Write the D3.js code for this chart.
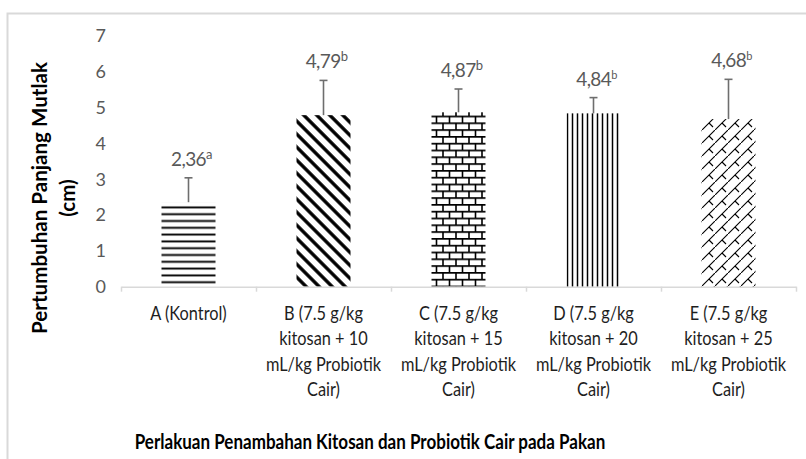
<!DOCTYPE html>
<html lang="id">
<head>
<meta charset="utf-8">
<title>Pertumbuhan Panjang Mutlak</title>
<script src="https://d3js.org/d3.v7.min.js"></script>
<style>
  body { margin: 0; background: #fff; }
  text { font-family: Lato, "Noto Sans", sans-serif; }
</style>
</head>
<body>
<script>
// data
var categories = [
  ["A (Kontrol)"],
  ["B (7.5 g/kg", "kitosan + 10", "mL/kg Probiotik", "Cair)"],
  ["C (7.5 g/kg", "kitosan + 15", "mL/kg Probiotik", "Cair)"],
  ["D (7.5 g/kg", "kitosan + 20", "mL/kg Probiotik", "Cair)"],
  ["E (7.5 g/kg", "kitosan + 25", "mL/kg Probiotik", "Cair)"]
];
var means = [2.36, 4.79, 4.87, 4.84, 4.68];
var errors = [0.68, 0.97, 0.65, 0.44, 1.11];
var letters = ["a", "b", "b", "b", "b"];
var yTicks = [0, 1, 2, 3, 4, 5, 6, 7];
var patterns = ["hlines", "diag", "brick", "vlines", "shingle"];

var w = 806, h = 459;

var svg = d3.select("body").append("svg")
  .attr("width", w)
  .attr("height", h);

// chart border (runs off the picture)
svg.append("rect")
  .attr("x", 7.5).attr("y", 13.5)
  .attr("width", 820).attr("height", 470)
  .attr("fill", "#fff")
  .attr("stroke", "#d9d9d9")
  .attr("stroke-width", 2);

// fill patterns
var defs = svg.append("defs");

var p = defs.append("pattern").attr("id", "hlines")
  .attr("patternUnits", "userSpaceOnUse").attr("width", 8).attr("height", 6.8);
p.append("rect").attr("width", 8).attr("height", 6.8).attr("fill", "#fff");
p.append("line").attr("x1", 0).attr("x2", 8).attr("y1", 3.4).attr("y2", 3.4)
  .attr("stroke", "#000").attr("stroke-width", 1.9);

p = defs.append("pattern").attr("id", "diag")
  .attr("patternUnits", "userSpaceOnUse").attr("width", 9.2).attr("height", 9.2)
  .attr("patternTransform", "rotate(-45)");
p.append("rect").attr("width", 9.2).attr("height", 9.2).attr("fill", "#fff");
p.append("line").attr("x1", 4.6).attr("x2", 4.6).attr("y1", 0).attr("y2", 9.2)
  .attr("stroke", "#000").attr("stroke-width", 3.4);

p = defs.append("pattern").attr("id", "brick")
  .attr("patternUnits", "userSpaceOnUse").attr("width", 13).attr("height", 13.6);
p.append("rect").attr("width", 13).attr("height", 13.6).attr("fill", "#fff");
p.append("path")
  .attr("d", "M0,0.8H13M0,7.6H13M1,0.8V7.6M7.5,7.6V13.6")
  .attr("stroke", "#000").attr("stroke-width", 1.6).attr("fill", "none");

p = defs.append("pattern").attr("id", "vlines")
  .attr("patternUnits", "userSpaceOnUse").attr("width", 5).attr("height", 8);
p.append("rect").attr("width", 5).attr("height", 8).attr("fill", "#fff");
p.append("line").attr("x1", 2.5).attr("x2", 2.5).attr("y1", 0).attr("y2", 8)
  .attr("stroke", "#000").attr("stroke-width", 1.5);

p = defs.append("pattern").attr("id", "shingle")
  .attr("patternUnits", "userSpaceOnUse").attr("width", 13).attr("height", 13);
p.append("rect").attr("width", 13).attr("height", 13).attr("fill", "#fff");
p.append("path")
  .attr("d", "M-1,14L14,-1M7,6L11,10")
  .attr("stroke", "#000").attr("stroke-width", 1.1).attr("fill", "none");

// scales
var x = d3.scaleBand()
  .domain(d3.range(means.length))
  .range([121, 796])
  .paddingInner(0.6)
  .paddingOuter(0.3);

var xEdge = d3.scaleLinear()
  .domain([0, means.length])
  .range([121, 796]);

var y = d3.scaleLinear()
  .domain([0, 7])
  .range([286.7, 36]);

// bars
svg.append("g").selectAll("rect")
  .data(means)
  .enter()
  .append("rect")
  .attr("x", (d, i) => x(i))
  .attr("y", d => y(d))
  .attr("width", x.bandwidth())
  .attr("height", d => y(0) - y(d))
  .attr("fill", (d, i) => "url(#" + patterns[i] + ")");

// error bars (upper only)
var eb = svg.append("g")
  .attr("stroke", "#6e6e6e")
  .attr("stroke-width", 1.6)
  .selectAll("g")
  .data(means)
  .enter()
  .append("g");
eb.append("line")
  .attr("x1", (d, i) => x(i) + x.bandwidth() / 2)
  .attr("x2", (d, i) => x(i) + x.bandwidth() / 2)
  .attr("y1", d => y(d))
  .attr("y2", (d, i) => y(d + errors[i]));
eb.append("line")
  .attr("x1", (d, i) => x(i) + x.bandwidth() / 2 - 4)
  .attr("x2", (d, i) => x(i) + x.bandwidth() / 2 + 4)
  .attr("y1", (d, i) => y(d + errors[i]))
  .attr("y2", (d, i) => y(d + errors[i]));

// value labels with superscript letters
var vl = svg.append("g").selectAll("text")
  .data(means)
  .enter()
  .append("text")
  .attr("class", "value")
  .attr("x", (d, i) => x(i) + x.bandwidth() / 2 + 3)
  .attr("y", (d, i) => y(d + errors[i]) - 12)
  .attr("text-anchor", "middle")
  .attr("fill", "#595959")
  .style("font-size", "19px")
  .style("letter-spacing", "-0.6px");
vl.append("tspan").text(d => d.toFixed(2).replace(".", ","));
vl.append("tspan")
  .attr("dy", -7)
  .style("font-size", (d, i) => i > 2 ? "11px" : "13px")
  .text((d, i) => letters[i]);

// x axis
var xAxis = d3.axisBottom(xEdge)
  .tickValues(d3.range(means.length + 1))
  .tickFormat("")
  .tickSize(5)
  .tickSizeOuter(0);
var gx = svg.append("g")
  .attr("transform", "translate(0," + y(0) + ")")
  .call(xAxis);
gx.selectAll("path, line").attr("stroke", "#d9d9d9").attr("stroke-width", 1.5);

// category labels
var cl = svg.append("g").selectAll("text")
  .data(categories)
  .enter()
  .append("text")
  .attr("text-anchor", "middle")
  .attr("fill", "#1e1e1e")
  .style("font-size", "19px");
cl.selectAll("tspan")
  .data((d, i) => d.map(s => ({s: s, i: i})))
  .enter()
  .append("tspan")
  .attr("class", "cat")
  .attr("x", d => x(d.i) + x.bandwidth() / 2)
  .attr("y", (d, j) => 320 + j * 25.3)
  .text(d => d.s);

// y axis (labels only)
var yAxis = d3.axisLeft(y)
  .tickValues(yTicks)
  .tickFormat(d3.format("d"))
  .tickSize(0)
  .tickPadding(0);
var gy = svg.append("g")
  .attr("transform", "translate(106,0)")
  .call(yAxis);
gy.select(".domain").remove();
gy.selectAll("text")
  .attr("fill", "#595959")
  .style("font-size", "18px")
  .style("font-family", "Lato, sans-serif");

// axis titles
var yt = svg.append("text")
  .attr("transform", "translate(0,198) rotate(-90)")
  .attr("text-anchor", "middle")
  .attr("fill", "#000")
  .style("font-weight", "bold")
  .style("font-size", "21px");
yt.append("tspan").attr("class", "ytitle").attr("x", 0).attr("y", 47).text("Pertumbuhan Panjang Mutlak");
yt.append("tspan").attr("class", "ytitle").attr("x", 0).attr("y", 75).text("(cm)");

svg.append("text")
  .attr("class", "xtitle")
  .attr("x", 370)
  .attr("y", 449)
  .attr("text-anchor", "middle")
  .attr("fill", "#000")
  .style("font-weight", "bold")
  .style("font-size", "21px")
  .text("Perlakuan Penambahan Kitosan dan Probiotik Cair pada Pakan");

// squeeze text a little, like the narrow face in the picture
function squeeze(sel, k) {
  sel.each(function() {
    var len = this.getComputedTextLength();
    d3.select(this).attr("textLength", len * k).attr("lengthAdjust", "spacingAndGlyphs");
  });
}
squeeze(svg.selectAll("tspan.cat"), 0.86);
squeeze(svg.selectAll("tspan.ytitle"), 0.98);
squeeze(svg.selectAll("text.xtitle"), 0.81);
</script>
</body>
</html>
